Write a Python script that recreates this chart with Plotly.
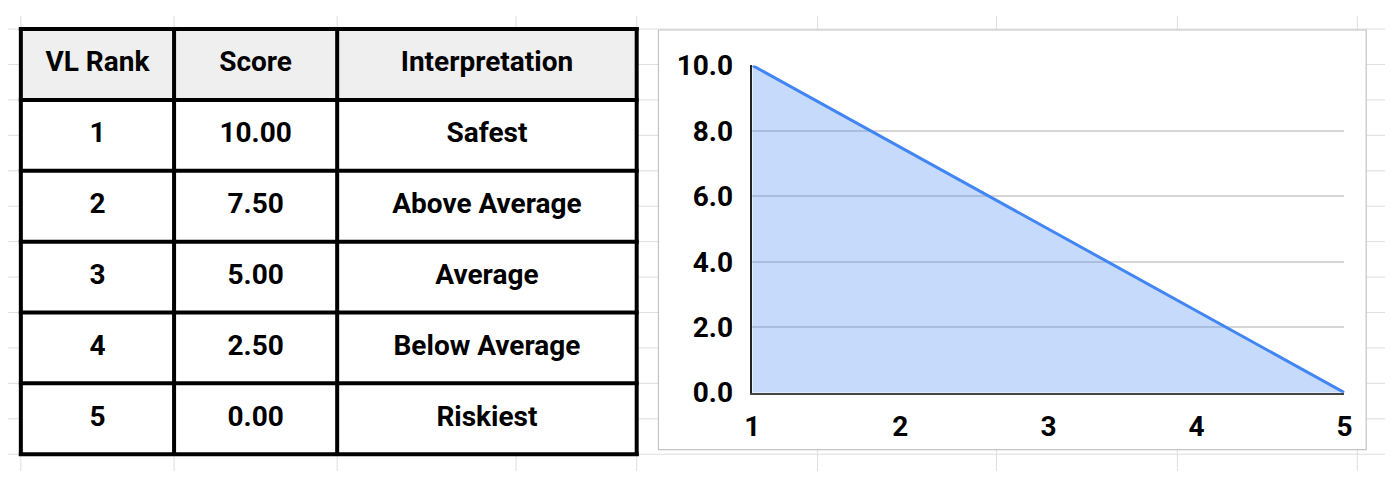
import plotly.graph_objects as go

W, H = 1393, 488

# ---------------- data ----------------
headers = ["VL Rank", "Score", "Interpretation"]
ranks = [1, 2, 3, 4, 5]
scores = [10.0, 7.5, 5.0, 2.5, 0.0]
interpretations = ["Safest", "Above Average", "Average", "Below Average", "Riskiest"]
y_tick_vals = [0, 2, 4, 6, 8, 10]

# ---------------- layout constants (pixels) ----------------
SHEET_COLS = [13, 168, 333, 514, 636, 819, 1000, 1183, 1365]
SHEET_ROW_TOP = 14
SHEET_ROW_H = 38
TABLE_COLS = [13, 168, 333, 636]
TABLE_TOP = 14
TABLE_ROW_H = 76
CHART_BOX = (658, 15, 1374, 465)
PLOT_X = (753, 1352)
PLOT_Y = (53, 404)  # pixel rows of y=10 and y=0

FONT = dict(family="Roboto", size=28, color="black", weight="bold")


def px(x):
    return x / W


def py(y):
    return 1 - y / H


shapes = []
# spreadsheet grid
for x in SHEET_COLS:
    shapes.append(dict(type="line", xref="paper", yref="paper", x0=px(x), x1=px(x), y0=0, y1=1,
                       line=dict(color="#dedede", width=1), layer="below"))
y = SHEET_ROW_TOP
while y < H:
    shapes.append(dict(type="line", xref="paper", yref="paper", x0=0, x1=1, y0=py(y), y1=py(y),
                       line=dict(color="#dedede", width=1), layer="below"))
    y += SHEET_ROW_H

n_rows = len(ranks) + 1
t_left, t_right = TABLE_COLS[0], TABLE_COLS[-1]
t_bottom = TABLE_TOP + TABLE_ROW_H * n_rows
# table background + header fill
shapes.append(dict(type="rect", xref="paper", yref="paper", x0=px(t_left), x1=px(t_right),
                   y0=py(t_bottom), y1=py(TABLE_TOP), fillcolor="white", line=dict(width=0), layer="below"))
shapes.append(dict(type="rect", xref="paper", yref="paper", x0=px(t_left), x1=px(t_right),
                   y0=py(TABLE_TOP + TABLE_ROW_H), y1=py(TABLE_TOP), fillcolor="#efefef",
                   line=dict(width=0), layer="below"))
# chart box
cx0, cy0, cx1, cy1 = CHART_BOX
shapes.append(dict(type="rect", xref="paper", yref="paper", x0=px(cx0), x1=px(cx1),
                   y0=py(cy1), y1=py(cy0), fillcolor="white", line=dict(color="#c4c4c4", width=1.2),
                   layer="below"))
# table borders
for x in TABLE_COLS:
    shapes.append(dict(type="line", xref="paper", yref="paper", x0=px(x), x1=px(x),
                       y0=py(t_bottom + 2), y1=py(TABLE_TOP - 2), line=dict(color="black", width=4),
                       layer="above"))
for i in range(n_rows + 1):
    yy = TABLE_TOP + TABLE_ROW_H * i
    shapes.append(dict(type="line", xref="paper", yref="paper", x0=px(t_left - 2), x1=px(t_right + 2),
                       y0=py(yy), y1=py(yy), line=dict(color="black", width=4), layer="above"))

# ---------------- table text ----------------
rows_text = [headers] + [[str(r), f"{s:.2f}", t] for r, s, t in zip(ranks, scores, interpretations)]
tx, ty, tt = [], [], []
for i, row in enumerate(rows_text):
    for j, cell in enumerate(row):
        tx.append((TABLE_COLS[j] + TABLE_COLS[j + 1]) / 2)
        ty.append(TABLE_TOP + TABLE_ROW_H * (i + 0.5))
        tt.append(cell)

fig = go.Figure()

fig.add_trace(go.Scatter(
    x=ranks, y=scores, mode="lines", fill="tozeroy",
    fillcolor="rgba(66,133,244,0.3)", line=dict(color="#4285f4", width=3),
    cliponaxis=False, hoverinfo="x+y", showlegend=False,
))

fig.add_trace(go.Scatter(
    x=tx, y=ty, text=tt, mode="text", textposition="middle center",
    textfont=FONT, xaxis="x2", yaxis="y2", cliponaxis=False, hoverinfo="skip", showlegend=False,
))

fig.update_layout(
    width=W, height=H, margin=dict(l=0, r=0, t=0, b=0),
    paper_bgcolor="white", plot_bgcolor="rgba(0,0,0,0)",
    shapes=shapes, showlegend=False,
    xaxis=dict(domain=[px(PLOT_X[0]), px(PLOT_X[1])], range=[1, 5], tickvals=ranks,
               showgrid=False, zeroline=False, showline=True, linecolor="#444", linewidth=1.5,
               ticks="", tickfont=FONT, ticklabelstandoff=8, fixedrange=True),
    yaxis=dict(domain=[py(PLOT_Y[1]), py(PLOT_Y[0])], range=[0, 10], tickvals=y_tick_vals,
               tickformat=".1f", showgrid=True, gridcolor="#d6d6d6", gridwidth=1.5,
               zeroline=False, showline=True, linecolor="#222", linewidth=1.5,
               ticks="", tickfont=FONT, ticklabelstandoff=12, fixedrange=True),
    xaxis2=dict(domain=[0, 1], range=[0, W], visible=False, fixedrange=True),
    yaxis2=dict(domain=[0, 1], range=[H, 0], visible=False, fixedrange=True),
)

fig.write_html("out.html", config={"displayModeBar": False},
               post_script="document.body.style.margin='0';document.body.style.overflow='hidden';")
